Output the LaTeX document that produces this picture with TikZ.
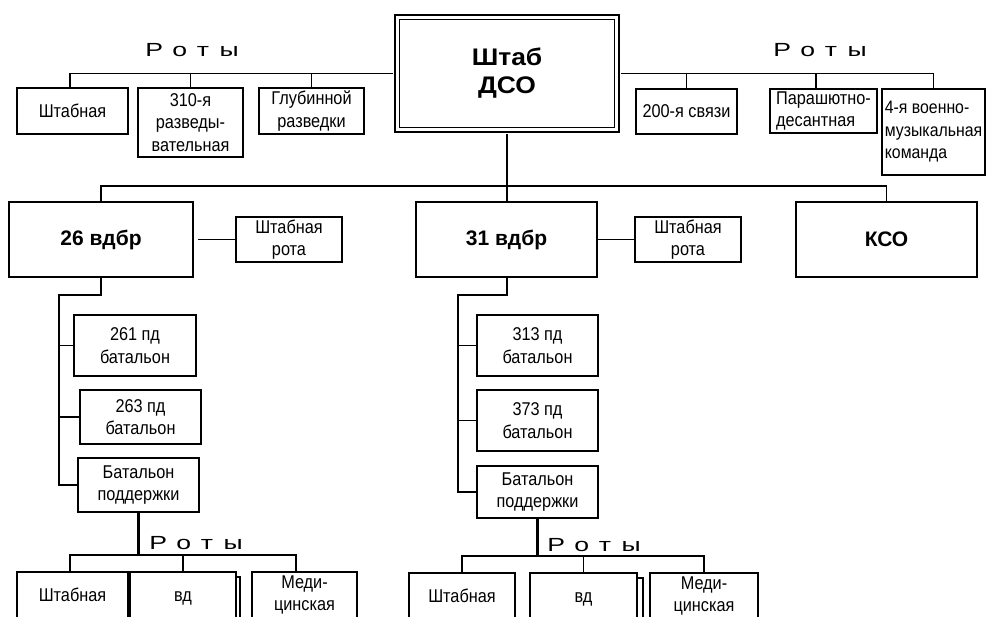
\documentclass[tikz,border=0pt]{standalone}
\usepackage{fontspec}
\setmainfont{Liberation Sans}
\newfontfamily\regf[FakeStretch=0.88]{Liberation Sans}
\newfontfamily\rotyf[FakeStretch=1.4,LetterSpace=55]{Liberation Sans}
\newfontfamily\hqf[FakeStretch=1.1]{Liberation Sans}
\begin{document}
\begin{tikzpicture}[x=1pt,y=-1pt,
  box/.style={draw, line width=1.5pt, inner sep=0pt, outer sep=0pt, align=center,
    font=\regf\fontsize{18.5}{22.5}\selectfont},
  bigbox/.style={draw, line width=1.5pt, inner sep=0pt, outer sep=0pt, align=center,
    font=\bfseries\fontsize{21}{24}\selectfont},
  hqbox/.style={draw, line width=1.8pt, double=white, double distance=3pt, inner sep=0pt,
    outer sep=4.1pt, align=center, font=\hqf\bfseries\fontsize{24}{28}\selectfont},
  roty/.style={inner sep=0pt, font=\rotyf\fontsize{19}{20}\selectfont},
  conn/.style={line width=1.4pt},
  thickline/.style={line width=2.6pt},
  medline/.style={line width=2pt}]
\useasboundingbox (0,0) rectangle (987,617);
\clip (0,0) rectangle (987,617);

% HQ
\node[hqbox, minimum width=219.8pt, minimum height=112.8pt] (hq) at (507,73.5) {Штаб\\ДСО};

% top left companies
\node[roty] (rt1) at (192,50) {Роты};
\node[box, minimum width=111pt, minimum height=46pt] (s1) at (72.5,111) {Штабная};
\node[box, minimum width=105pt, minimum height=69pt] (s2) at (190.5,122.5) {310-я\\разведы-\\вательная};
\node[box, minimum width=105pt, minimum height=46pt] (s3) at (311.5,111) {Глубинной\\разведки};

% top right companies
\node[roty] (rt2) at (820,50) {Роты};
\node[box, minimum width=101pt, minimum height=45pt] (s4) at (686.5,111.5) {200-я связи};
\node[box, minimum width=107pt, minimum height=44pt, align=left] (s5) at (823.5,111) {Парашютно-\\десантная};
\node[box, minimum width=103pt, minimum height=86pt, align=left, font=\regf\fontsize{18}{22.5}\selectfont] (s6) at (933.5,132) {4-я военно-\\музыкальная\\команда};

\coordinate (s1t) at ([xshift=-2.5pt]s1.north);
\coordinate (s5t) at ([xshift=-7.5pt]s5.north);
\draw[conn] (hq.west) -| (s1t);
\draw[conn] (s2.north) -- (s2.north |- hq.west);
\draw[conn] (s3.north) -- (s3.north |- hq.west);
\draw[conn] (hq.east) -| (s6.north);
\draw[conn] (s4.north) -- (s4.north |- hq.east);
\draw[conn] (s5t) -- (s5t |- hq.east);

% brigades
\node[bigbox, minimum width=184pt, minimum height=75pt] (b26) at (101,239.5) {26 вдбр};
\node[box, minimum width=106pt, minimum height=45pt] (sr1) at (289,239.5) {Штабная\\рота};
\node[bigbox, minimum width=181pt, minimum height=75pt] (b31) at (506.5,239.5) {31 вдбр};
\node[box, minimum width=106pt, minimum height=45pt] (sr2) at (688,239.5) {Штабная\\рота};
\node[bigbox, minimum width=181pt, minimum height=75pt] (kso) at (886.5,239.5) {КСО};

\draw[thickline] (hq.south) -- (hq.south |- b31.north);
\draw[conn] (b26.north) -- ++(0,-16) -| (kso.north);
\draw[conn] ([xshift=5pt]b26.east) -- (sr1.west);
\draw[conn] (b31.east) -- (sr2.west);

% left column battalions
\node[box, minimum width=122pt, minimum height=61pt] (p261) at (135,345.5) {261 пд\\батальон};
\node[box, minimum width=121pt, minimum height=54pt] (p263) at (140.5,417) {263 пд\\батальон};
\node[box, minimum width=121pt, minimum height=54pt] (bp1) at (138.5,485) {Батальон\\поддержки};

\coordinate (lc) at (59,295);
\draw[thickline] (b26.south) |- (lc) -- (lc |- p263.west);
\draw[conn] (lc |- p263.west) |- (bp1.west);
\draw[conn] (lc |- p261.west) -- (p261.west);
\draw[conn] (lc |- p263.west) -- (p263.west);

% right column battalions
\node[box, minimum width=121pt, minimum height=61pt] (p313) at (537.5,345.5) {313 пд\\батальон};
\node[box, minimum width=121pt, minimum height=61pt] (p373) at (537.5,420.5) {373 пд\\батальон};
\node[box, minimum width=121pt, minimum height=52pt] (bp2) at (537.5,492) {Батальон\\поддержки};

\coordinate (rc) at (458,295);
\draw[medline] (b31.south) |- (rc) |- (bp2.west);
\draw[conn] (rc |- p313.west) -- (p313.west);
\draw[conn] (rc |- p373.west) -- (p373.west);

% bottom left companies
\node[roty] (rt3) at (196,543) {Роты};
\node[box, minimum width=111pt, minimum height=46pt] (l1) at (72.5,595) {Штабная};
\node[box, minimum width=106pt, minimum height=46pt] (l2) at (183,595) {\vphantom{Ш}\smash{вд}};
\node[box, minimum width=105pt, minimum height=46pt] (l3) at (304.5,595) {Меди-\\цинская};
\draw[conn] ([yshift=-5pt]l2.north east) -- ++(4,0) -- ++(0,60);

\path (bp1.south) ++(0,43) coordinate (lb);
\coordinate (l1t) at ([xshift=-2.5pt]l1.north);
\coordinate (l3t) at ([xshift=-8.5pt]l3.north);
\draw[conn] (l1t) |- (l3t |- lb) -- (l3t);
\draw[conn] (l2.north) -- (l2.north |- lb);
\draw[thickline] (bp1.south) -- (lb) -- (l2.north |- lb);

% bottom right companies
\node[roty] (rt4) at (594,545) {Роты};
\node[box, minimum width=106pt, minimum height=46pt] (r1) at (462,596) {Штабная};
\node[box, minimum width=107pt, minimum height=46pt] (r2) at (583.5,596) {\vphantom{Ш}\smash{вд}};
\node[box, minimum width=108pt, minimum height=46pt] (r3) at (704,596) {Меди-\\цинская};
\draw[conn] ([yshift=-5pt]r2.north east) -- ++(6,0) -- ++(0,60);

\path (bp2.south) ++(0,38) coordinate (rb);
\draw[conn] (r1.north) |- (r3.north |- rb) -- (r3.north);
\draw[conn] (r2.north) -- (r2.north |- rb);
\draw[thickline] (bp2.south) -- (rb) -- (r2.north |- rb);
\end{tikzpicture}
\end{document}
